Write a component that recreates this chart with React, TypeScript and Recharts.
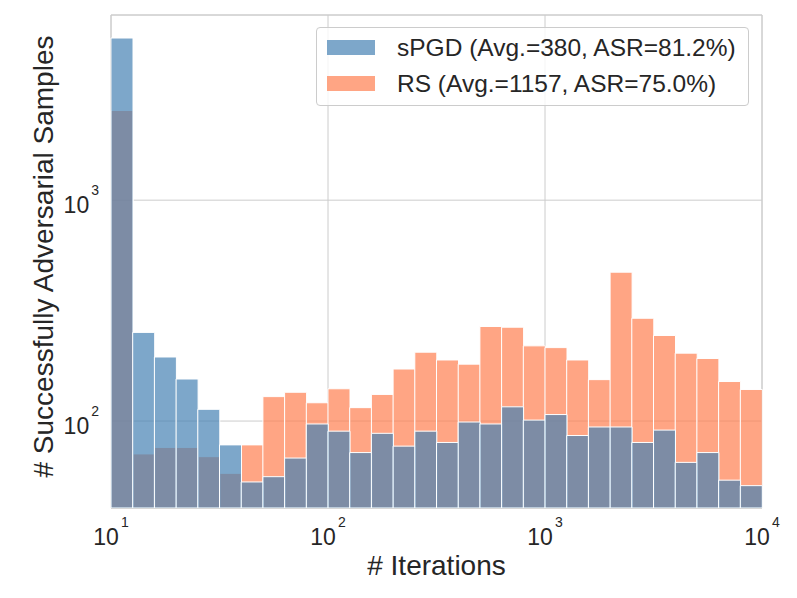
import { ComposedChart, Bar, XAxis, YAxis, CartesianGrid, ReferenceArea, Legend, Label } from 'recharts'

// 30 log-spaced bins between 10^1 and 10^4 (10 per decade)
const binIndex = Array.from({ length: 30 }, (_, i) => i)
const binCenters = binIndex.map(i => Math.pow(10, 1 + (i + 0.5) / 10))

const spgdCounts = [5420, 252, 195, 155, 113, 78, 53, 56, 68, 97, 90, 72, 88, 77, 90, 80, 99, 97, 116, 101, 107, 86, 94, 94, 80, 91, 65, 72, 54, 51]
const rsCounts = [2546, 71, 76, 76, 69, 58, 78, 129, 135, 121, 140, 115, 132, 172, 205, 189, 181, 268, 266, 219, 215, 189, 154, 472, 292, 244, 203, 192, 151, 139]

const xTicks = [10, 100, 1000, 10000]
const yTicks = [100, 1000]
const yDomain = [40.4, 6890]

const legendItems = [
  { name: 'sPGD (Avg.=380, ASR=81.2%)', color: '#4682b4' },
  { name: 'RS (Avg.=1157, ASR=75.0%)', color: '#ff7f50' },
]

const data = binIndex.map(i => ({
  bin: i,
  center: binCenters[i],
  spgd: spgdCounts[i],
  rs: rsCounts[i],
}))

const FONT = '"Liberation Sans", Arial, sans-serif'
const TEXT = '#262626'

const expOf = (v: number) => Math.round(Math.log10(v))

function XTick(props: any) {
  const { x, payload } = props
  return (
    <text x={x} y={545} textAnchor="middle" fontFamily={FONT} fill={TEXT}>
      <tspan fontSize={23}>10</tspan>
      <tspan fontSize={14} dx={2} dy={-18}>{expOf(payload.value)}</tspan>
    </text>
  )
}

function YTick(props: any) {
  const { y, payload } = props
  return (
    <text x={99} y={y + 13} textAnchor="end" fontFamily={FONT} fill={TEXT}>
      <tspan fontSize={23}>10</tspan>
      <tspan fontSize={14} dx={2} dy={-18}>{expOf(payload.value)}</tspan>
    </text>
  )
}

function renderLegend() {
  return (
    <div style={{
      width: 433, height: 79, boxSizing: 'border-box', border: '1px solid #cccccc', borderRadius: 4,
      background: 'rgba(255,255,255,0.8)', fontFamily: FONT, color: TEXT, fontSize: 24.5, position: 'relative',
    }}>
      {legendItems.map((it, k) => (
        <div key={it.name} style={{ position: 'absolute', left: 10, top: 12 + k * 36, height: 15, display: 'flex', alignItems: 'center' }}>
          <span style={{ display: 'inline-block', width: 48, height: 15, background: it.color, opacity: 0.7 }} />
          <span style={{ marginLeft: 22, whiteSpace: 'nowrap', lineHeight: '15px' }}>{it.name}</span>
        </div>
      ))}
    </div>
  )
}

export default function App() {
  return (
    <div style={{ position: 'absolute', left: 0, top: 0, background: '#fff' }}>
      <ComposedChart width={797} height={598} data={data} barCategoryGap={0} barGap={0}
        margin={{ top: 15, right: 35, bottom: 0, left: 0 }}>
        <XAxis xAxisId="a" dataKey="bin" type="category" hide />
        <XAxis xAxisId="b" dataKey="bin" type="category" hide />
        <XAxis xAxisId="log" dataKey="center" type="number" scale="log" domain={[10, 10000]} allowDataOverflow
          ticks={xTicks} tick={<XTick />} axisLine={false} tickLine={false} tickSize={0} height={90}>
          <Label content={() => (
            <text x={436.5} y={575} textAnchor="middle" fontFamily={FONT} fontSize={28} fill={TEXT}># Iterations</text>
          )} />
        </XAxis>
        <YAxis type="number" scale="log" domain={yDomain} allowDataOverflow ticks={yTicks} tick={<YTick />}
          axisLine={false} tickLine={false} width={111}>
          <Label content={() => (
            <text x={53} y={256.5} textAnchor="middle" fontFamily={FONT} fontSize={28} fill={TEXT}
              transform="rotate(-90, 53, 256.5)"># Successfully Adversarial Samples</text>
          )} />
        </YAxis>
        <CartesianGrid xAxisId="log" stroke="#cccccc" strokeWidth={1} />
        <ReferenceArea xAxisId="log" x1={10} x2={10000} y1={yDomain[0]} y2={yDomain[1]} fill="none"
          stroke="#cccccc" strokeWidth={1} fillOpacity={0} ifOverflow="visible" />
        <Bar xAxisId="a" dataKey="rs" fill="#ff7f50" fillOpacity={0.7} stroke="#ffffff" strokeWidth={1} isAnimationActive={false} />
        <Bar xAxisId="b" dataKey="spgd" fill="#4682b4" fillOpacity={0.7} stroke="#ffffff" strokeWidth={1} isAnimationActive={false} />
        <Legend layout="horizontal" verticalAlign="middle" content={renderLegend}
          wrapperStyle={{ position: 'absolute', left: 316, top: 27, width: 433, height: 79 }} />
      </ComposedChart>
    </div>
  )
}
